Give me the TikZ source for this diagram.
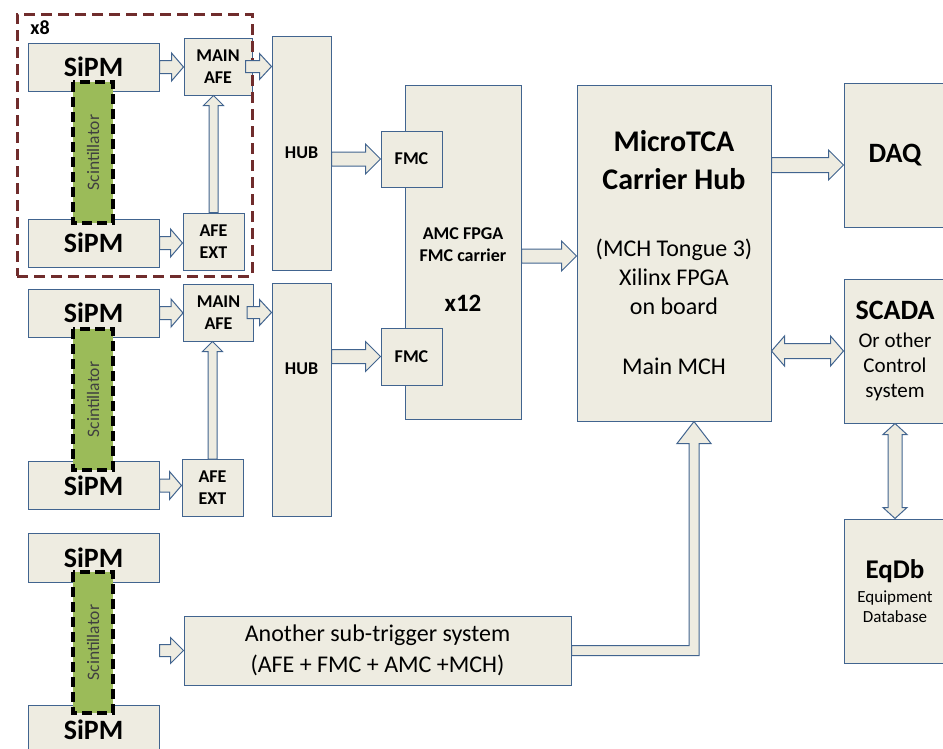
\documentclass[tikz,border=0pt]{standalone}
\usepackage{fontspec}
\setmainfont{Carlito}
\usetikzlibrary{calc}
\definecolor{boxfill}{RGB}{238,236,225}
\definecolor{boxline}{RGB}{65,100,143}
\definecolor{scintgreen}{RGB}{155,187,89}
\definecolor{framered}{RGB}{112,44,44}
\tikzset{
  blockarrow/.style={draw=boxline,fill=boxfill,line width=1pt,line join=miter},
  bshaft/.store in=\bshaft, bhead/.store in=\bhead, blen/.store in=\blen,
  bshaft=7pt, bhead=15pt, blen=15pt
}
\newcommand\fatright[3][]{\draw[blockarrow,#1] let \p1=(#2), \p2=(#3) in
  (\x1,\y1+\bshaft) -- (\x2-\blen,\y1+\bshaft) -- (\x2-\blen,\y1+\bhead) -- (\x2,\y1)
  -- (\x2-\blen,\y1-\bhead) -- (\x2-\blen,\y1-\bshaft) -- (\x1,\y1-\bshaft) -- cycle;}
\newcommand\fatup[3][]{\draw[blockarrow,#1] let \p1=(#2), \p2=(#3) in
  (\x1-\bshaft,\y1) -- (\x1-\bshaft,\y2-\blen) -- (\x1-\bhead,\y2-\blen) -- (\x1,\y2)
  -- (\x1+\bhead,\y2-\blen) -- (\x1+\bshaft,\y2-\blen) -- (\x1+\bshaft,\y1) -- cycle;}
\newcommand\fatboth[3][]{\draw[blockarrow,#1] let \p1=(#2), \p2=(#3) in
  (\x1,\y1) -- (\x1+\blen,\y1+\bhead) -- (\x1+\blen,\y1+\bshaft) -- (\x2-\blen,\y1+\bshaft)
  -- (\x2-\blen,\y1+\bhead) -- (\x2,\y1) -- (\x2-\blen,\y1-\bhead) -- (\x2-\blen,\y1-\bshaft)
  -- (\x1+\blen,\y1-\bshaft) -- (\x1+\blen,\y1-\bhead) -- cycle;}
\newcommand\fatupdown[3][]{\draw[blockarrow,#1] let \p1=(#2), \p2=(#3) in
  (\x1,\y1) -- (\x1+\bhead,\y1-\blen) -- (\x1+\bshaft,\y1-\blen) -- (\x1+\bshaft,\y2+\blen)
  -- (\x1+\bhead,\y2+\blen) -- (\x1,\y2) -- (\x1-\bhead,\y2+\blen) -- (\x1-\bshaft,\y2+\blen)
  -- (\x1-\bshaft,\y1-\blen) -- (\x1-\bhead,\y1-\blen) -- cycle;}
\newcommand\fatelbow[3][]{\draw[blockarrow,#1] let \p1=(#2), \p2=(#3) in
  (\x1,\y1+\bshaft) -- (\x2-\bshaft,\y1+\bshaft) -- (\x2-\bshaft,\y2-\blen) -- (\x2-\bhead,\y2-\blen)
  -- (\x2,\y2) -- (\x2+\bhead,\y2-\blen) -- (\x2+\bshaft,\y2-\blen) -- (\x2+\bshaft,\y1-\bshaft)
  -- (\x1,\y1-\bshaft) -- cycle;}
\begin{document}
\begin{tikzpicture}[x=1pt,y=-1pt,
  box/.style={draw=boxline,fill=boxfill,line width=1pt,inner sep=0pt,align=center},
  sipm/.style={box,minimum width=131pt,minimum height=48pt,font=\fontsize{28}{34}\selectfont\bfseries},
  scint/.style={fill=scintgreen,draw=black,line width=3.5pt,dash pattern=on 10pt off 5pt,rotate=90,
    minimum width=141pt,minimum height=40pt,inner sep=0pt,font=\fontsize{17.5}{20}\selectfont,text=black!75},
  afe/.style={box,minimum height=57pt,font=\fontsize{18}{22}\selectfont\bfseries},
  hub/.style={box,minimum width=59pt,minimum height=234pt,font=\fontsize{18}{22}\selectfont\bfseries},
  fmc/.style={box,minimum width=61pt,minimum height=56pt,font=\fontsize{18}{22}\selectfont\bfseries},
  side/.style={box,minimum width=102pt,minimum height=144pt},
  groupframe/.style={draw=framered,line width=3pt,dash pattern=on 11pt off 6pt}]
  \useasboundingbox (0,0) rectangle (943,748);
  \clip (0,0) rectangle (943,748);

  \node[sipm] (sipmA1) at (93.5,67) {SiPM};
  \node[sipm] (sipmB1) at (93.5,243) {SiPM};
  \node[scint] (scint1) at (93,152.5) {Scintillator};
  \node[afe,minimum width=68pt] (afemain1) at (218,66.5) {MAIN\\AFE};
  \node[afe,minimum width=61pt] (afeext1) at (213.5,241.5) {AFE\\EXT};
  \node[hub] (hub1) at (301.5,153) {HUB};

  \node[sipm] (sipmA2) at (93.5,313) {SiPM};
  \node[sipm] (sipmB2) at (93.5,485.5) {SiPM};
  \node[scint] (scint2) at (93,399.5) {Scintillator};
  \node[afe,minimum width=70pt] (afemain2) at (218.5,312.5) {MAIN\\AFE};
  \node[afe,minimum width=61pt] (afeext2) at (212.5,488) {AFE\\EXT};
  \node[hub,minimum height=233pt,label={[font=\fontsize{18}{22}\selectfont\bfseries,yshift=31pt]center:HUB}] (hub2) at (301.5,399.5) {};

  \node[sipm,minimum height=49pt] (sipmA3) at (93.5,557.5) {SiPM};
  \node[sipm,minimum height=49pt] (sipmB3) at (93.5,730) {SiPM};
  \node[scint] (scint3) at (93,642.5) {Scintillator};
  \node[box,minimum width=387pt,minimum height=69pt,font=\fontsize{24}{31}\selectfont] (another) at (377.5,650.5)
    {Another sub-trigger system\\(AFE + FMC + AMC +MCH)};

  \node[box,minimum width=116pt,minimum height=334pt,
    label={[font=\fontsize{18}{22}\selectfont\bfseries,align=center,yshift=-18pt]center:{AMC FPGA\\FMC carrier\\[28pt]\fontsize{25}{22}\selectfont x12}}] (amc) at (463,252) {};
  \node[fmc] (fmc1) at (411.5,159) {FMC};
  \node[fmc,minimum height=57pt] (fmc2) at (411.5,356.5) {FMC};

  \node[box,minimum width=194pt,minimum height=336pt,font=\fontsize{24}{29}\selectfont] (mch) at (674,253)
    {\fontsize{30}{29}\selectfont\bfseries MicroTCA\\[9pt]\fontsize{30}{29}\selectfont\bfseries Carrier Hub\\[38pt]
     \fontsize{24}{29}\selectfont\mdseries (MCH Tongue 3)\\Xilinx FPGA\\on board\\[31pt]Main MCH};
  \node[side,font=\fontsize{28}{34}\selectfont\bfseries] (daq) at (895,155) {DAQ};
  \node[side,font=\fontsize{21}{25}\selectfont] (scada) at (895,351)
    {\fontsize{28}{25}\selectfont\bfseries SCADA\\[3pt]\fontsize{21}{25}\selectfont\mdseries Or other\\Control\\system};
  \node[side,font=\fontsize{17}{20}\selectfont] (eqdb) at (895,591)
    {\fontsize{27}{20}\selectfont\bfseries EqDb\\[4pt]\fontsize{17}{20}\selectfont\mdseries Equipment\\Database};

  \node[groupframe,minimum width=235pt,minimum height=262pt] (grp) at (134.5,145) {};
  \node[font=\fontsize{20}{24}\selectfont\bfseries] (x8) at (40,28) {x8};

  \fatright[bshaft=6.5pt,bhead=14pt,blen=12pt]{sipmA1.east}{afemain1.west}
  \fatright[bshaft=6.5pt,bhead=14pt,blen=12pt]{sipmB1.east}{afeext1.west}
  \fatup[bshaft=4.5pt,bhead=10pt,blen=10pt]{afeext1.north}{afemain1.south}
  \fatright[bshaft=6pt,bhead=13pt,blen=12pt]{[xshift=-7pt]afemain1.east}{hub1.west}
  \fatright[bshaft=6.5pt,bhead=14pt,blen=12pt]{sipmA2.east}{afemain2.west}
  \fatright[bshaft=6.5pt,bhead=14pt,blen=12pt]{sipmB2.east}{afeext2.west}
  \fatup[bshaft=4.5pt,bhead=10pt,blen=10pt]{afeext2.north}{afemain2.south}
  \fatright[bshaft=6pt,bhead=13pt,blen=12pt]{[xshift=-7pt]afemain2.east}{hub2.west}
  \fatright{hub1.east |- fmc1.west}{fmc1.west}
  \fatright{hub2.east |- fmc2.west}{fmc2.west}
  \fatright{[yshift=-4pt]amc.east}{mch.west}
  \coordinate (daqin) at ($(daq.west)+(0,10)$);
  \fatright[bshaft=7.5pt]{mch.east |- daqin}{daqin}
  \fatboth[bshaft=7.5pt,blen=13pt]{mch.east |- scada.west}{scada.west}
  \fatupdown[bshaft=7pt,bhead=12pt,blen=11pt]{scada.south}{eqdb.north}
  \fatright[bshaft=6pt,bhead=13pt,blen=13pt]{sipmA3.east |- another.west}{another.west}
  \fatelbow[bshaft=5pt,bhead=17pt,blen=22pt]{another.east}{[xshift=20pt]mch.south}
\end{tikzpicture}
\end{document}
